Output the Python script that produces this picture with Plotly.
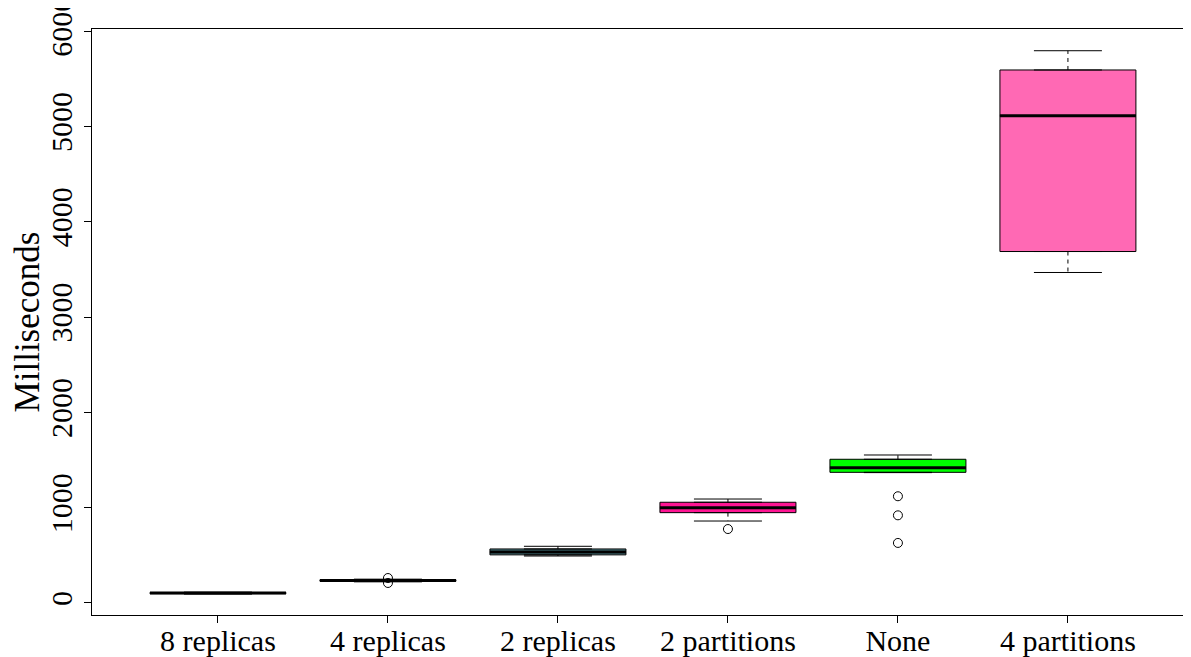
import plotly.graph_objects as go

names = ["8 replicas", "4 replicas", "2 replicas", "2 partitions", "None", "4 partitions"]
q1 = [98, 228, 505, 948, 1371, 3688]
med = [104, 236, 535, 1000, 1420, 5113]
q3 = [110, 244, 567, 1057, 1508, 5593]
low = [94, 222, 493, 860, 1368, 3468]
high = [114, 250, 595, 1091, 1553, 5795]
out_pos = [2, 2, 4, 5, 5, 5]
out_val = [262, 210, 776, 1120, 920, 630]
fills = ["#7f7f7f", "#6b6b6b", "#4B7F86", "#FF1493", "#00FF00", "#FF69B4"]

pos = list(range(1, len(names) + 1))
fig = go.Figure()

# boxes (whiskers drawn separately so they can be dashed like R)
for i, p in enumerate(pos):
    fig.add_trace(go.Box(
        x=[p], q1=[q1[i]], median=[med[i]], q3=[q3[i]],
        lowerfence=[q1[i]], upperfence=[q3[i]],
        width=0.8, fillcolor=fills[i],
        line=dict(color="black", width=1),
        boxpoints=False, showlegend=False, hoverinfo="skip"
    ))

wx, wy, cx, cy, mx, my = [], [], [], [], [], []
for i, p in enumerate(pos):
    wx += [p, p, None, p, p, None]
    wy += [q3[i], high[i], None, q1[i], low[i], None]
    cx += [p - 0.2, p + 0.2, None, p - 0.2, p + 0.2, None]
    cy += [high[i], high[i], None, low[i], low[i], None]
    mx += [p - 0.4, p + 0.4, None]
    my += [med[i], med[i], None]

fig.add_trace(go.Scatter(x=wx, y=wy, mode="lines", showlegend=False,
                         line=dict(color="black", width=1, dash="4px,4px")))
fig.add_trace(go.Scatter(x=cx, y=cy, mode="lines", showlegend=False,
                         line=dict(color="black", width=1)))
fig.add_trace(go.Scatter(x=mx, y=my, mode="lines", showlegend=False,
                         line=dict(color="black", width=3)))
fig.add_trace(go.Scatter(x=out_pos, y=out_val, mode="markers", showlegend=False,
                         marker=dict(symbol="circle-open", size=9,
                                     color="black", line=dict(width=1))))

# page body has an 8px margin, so the figure is laid out 8px up/left
fig.update_layout(
    width=1183, height=649,
    margin=dict(l=84, r=0, t=21, b=42),
    plot_bgcolor="white", paper_bgcolor="white",
    font=dict(family="Liberation Serif", size=30, color="black"),
    xaxis=dict(
        range=[0.259, 6.724], tickvals=pos, ticktext=names, automargin=False,
        showgrid=False, zeroline=False, showline=True, linecolor="black",
        linewidth=1, mirror=True, ticks="outside", ticklen=7, tickcolor="black",
        ticklabelstandoff=-8
    ),
    yaxis=dict(
        range=[-126, 6023], tickvals=[0, 1000, 2000, 3000, 4000, 5000, 6000],
        tickangle=-90, showgrid=False, zeroline=False, showline=True,
        linecolor="black", linewidth=1, ticks="outside", ticklen=7,
        tickcolor="black", automargin=False, ticklabeloverflow="allow",
        title=dict(text="Milliseconds", standoff=3, font=dict(size=35))
    ),
)

fig.write_html("out.html")
